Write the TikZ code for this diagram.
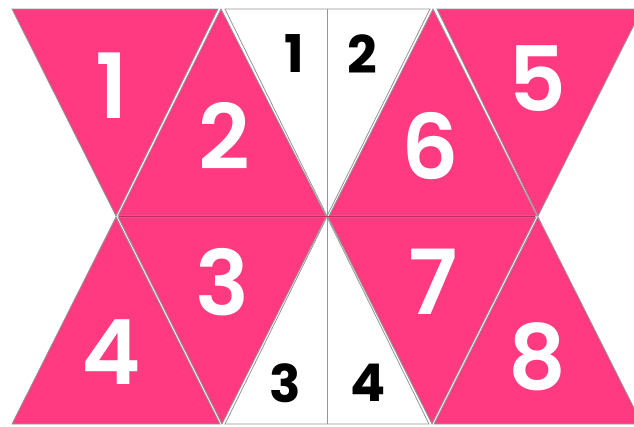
\documentclass[tikz,border=0pt]{standalone}
\usepackage{fontspec}
\setmainfont{Poppins}[BoldFont={Poppins SemiBold}]
\newfontfamily\heavyfont{Poppins Bold}
\definecolor{pinkfill}{RGB}{255,58,128}
\definecolor{pinkdark}{RGB}{190,45,100}
\definecolor{edgegray}{RGB}{150,150,150}
\tikzset{
  pinktri/.style={fill=pinkfill, draw=edgegray, line width=0.8pt, line join=miter},
  whitetri/.style={fill=white, draw=edgegray, line width=0.8pt},
  bignum/.style={text=white, inner sep=0pt, font=\fontsize{90}{90}\selectfont\bfseries},
  smallnum/.style={text=black, inner sep=0pt, font=\fontsize{52}{52}\selectfont\heavyfont}
}
\begin{document}
\begin{tikzpicture}[x=1pt,y=-1pt]
\useasboundingbox (0,0) rectangle (634,426);
\begin{scope}
\clip (0,0) rectangle (634,426);
% top row
\draw[pinktri] (12,9) -- (218,9) -- (116,216) -- cycle;
\draw[pinktri] (221,9) -- (326,216) -- (118,216) -- cycle;
\draw[whitetri] (225,9) -- (430,9) -- (327,216) -- cycle;
\draw[pinktri] (433,9) -- (537,216) -- (329,216) -- cycle;
\draw[pinktri] (437,9) -- (642,9) -- (538,216) -- cycle;
% bottom row
\draw[pinktri] (116,217) -- (220,424) -- (12,424) -- cycle;
\draw[pinktri] (118,217) -- (326,217) -- (222,424) -- cycle;
\draw[whitetri] (327,217) -- (429,424) -- (225,424) -- cycle;
\draw[pinktri] (328,217) -- (536,217) -- (432,424) -- cycle;
\draw[pinktri] (538,217) -- (642,424) -- (434,424) -- cycle;
% centre dividers
\draw[edgegray, line width=1pt] (327,9) -- (327,216);
\draw[edgegray, line width=1pt] (327,217) -- (327,424);
\draw[pinkdark, line width=1.6pt] (119,216.5) -- (535,216.5);
\end{scope}
% labels
\node[bignum] (n1) at (112,86) {1};
\node[bignum] (n2) at (224,136) {2};
\node[bignum] (n3) at (222,282) {3};
\node[bignum] (n4) at (111,352) {4};
\node[bignum] (n5) at (537,79) {5};
\node[bignum] (n6) at (430,146) {6};
\node[bignum] (n7) at (433,282) {7};
\node[bignum] (n8) at (537,357) {8};
\node[smallnum] (s1) at (294,54) {1};
\node[smallnum] (s2) at (362,54) {2};
\node[smallnum] (s3) at (285,383) {3};
\node[smallnum] (s4) at (368,383) {4};
\end{tikzpicture}
\end{document}
